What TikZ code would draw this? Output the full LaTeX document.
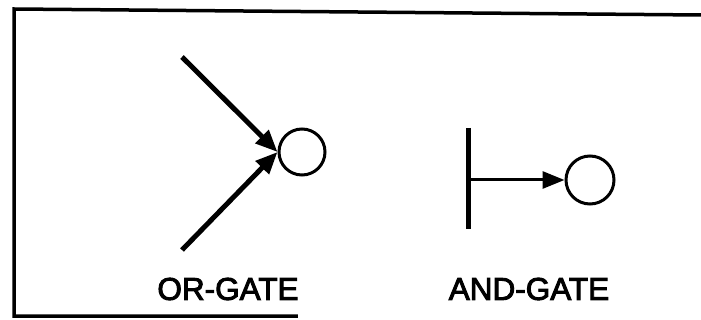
\documentclass[tikz,border=0pt]{standalone}
\usepackage{fontspec}
\newfontfamily\lblfont[FakeBold=3]{Liberation Sans}
\usetikzlibrary{arrows.meta}
\begin{document}
\begin{tikzpicture}[x=1pt,y=-1pt,
  frame/.style={line width=3.5pt,line cap=rect},
  place/.style={circle,draw,line width=3pt,minimum size=46pt,inner sep=0pt},
  thickarrow/.style={line width=5pt,-{Triangle[length=22pt,width=18pt]}},
  thinarrow/.style={line width=3pt,-{Triangle[length=22pt,width=17pt]}},
  bar/.style={line width=5pt},
  lbl/.style={font=\lblfont\fontsize{31.5}{32}\selectfont,inner sep=0pt}]
\useasboundingbox (0,0) rectangle (701,320);
% frame
\coordinate (tl) at (14,9);
\coordinate (tr) at (701,15);
\coordinate (bl) at (14,316);
\coordinate (br) at (296,316);
\draw[frame] (tr) -- (tl) -- (bl) -- (br);
% OR gate
\node[place] (orc) at (302,152) {};
\coordinate (or1) at (182,57);
\coordinate (or2) at (182,250);
\draw[thickarrow] (or1) -- (orc.west);
\draw[thickarrow] (or2) -- (orc.west);
% AND gate
\node[place,minimum size=48pt] (andc) at (590,180) {};
\coordinate (bartop) at (468,128);
\coordinate (barbot) at (468,229);
\coordinate (barmid) at (468,180);
\draw[bar] (bartop) -- (barbot);
\draw[thinarrow] (barmid) -- (andc.west);
% labels
\node[lbl] (orl) at (228,289) {OR-GATE};
\node[lbl] (andl) at (529,289) {AND-GATE};
\end{tikzpicture}
\end{document}
